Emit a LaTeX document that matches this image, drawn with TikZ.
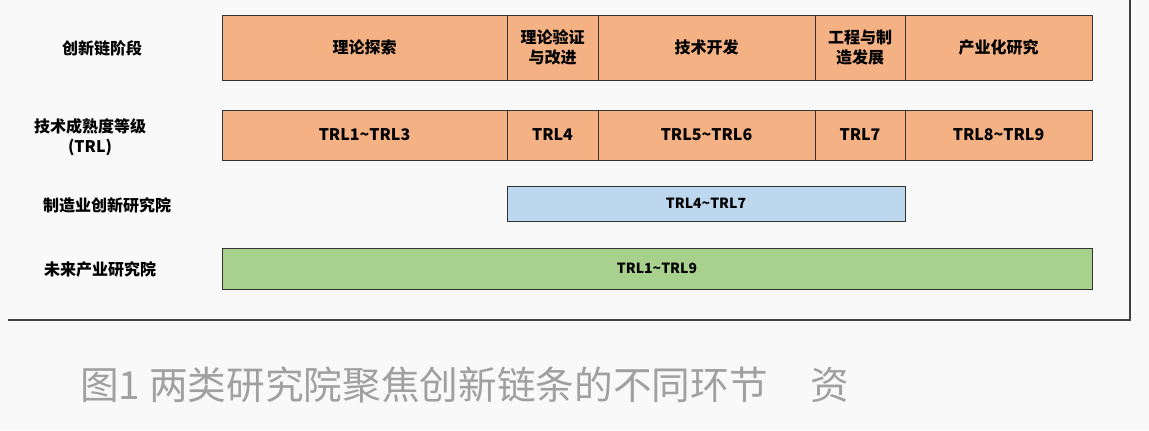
\documentclass[tikz,border=0pt]{standalone}
\usepackage{fontspec}
\setmainfont{Noto Sans CJK SC}
\definecolor{stageorange}{RGB}{244,177,131}
\definecolor{mfgblue}{RGB}{189,215,238}
\definecolor{futgreen}{RGB}{169,209,142}
\definecolor{capgrey}{RGB}{160,160,160}
\tikzset{
  cellbox/.style={draw=black!80, line width=0.6pt, inner sep=0pt, align=center, font=\bfseries\fontsize{12}{14}\selectfont},
  rowlabel/.style={inner sep=0.75pt, align=center, font=\bfseries\fontsize{12}{15}\selectfont}
}
\newcommand{\cellat}[6]{% name, x1, y1, x2, y2, text/fill
  \node[cellbox, #6, minimum width={(#4-#2)*0.75pt}, minimum height={(#5-#3)*0.75pt}] (#1) at ({(#2+#4)/2},{(#3+#5)/2}) {};}
\begin{document}
\begin{tikzpicture}[x=0.75pt,y=0.75pt,yscale=-1,xscale=1]
\fill[gray!5] (0,0) rectangle (1149,430);
\useasboundingbox (0,0) rectangle (1149,430);

%Frame
\coordinate (fa) at (8,320);
\coordinate (fb) at (1130,320);
\coordinate (fc) at (1130,0);
\draw[line width=1.2pt, black!75] (fa) -- (fb) -- (fc);

%Row 1
\cellat{s1}{222}{15}{507}{80}{fill=stageorange}
\cellat{s2}{507}{15}{598}{80}{fill=stageorange}
\cellat{s3}{598}{15}{815}{80}{fill=stageorange}
\cellat{s4}{815}{15}{905}{80}{fill=stageorange}
\cellat{s5}{905}{15}{1092}{80}{fill=stageorange}
\node[rowlabel] at (s1) {理论探索};
\node[rowlabel] at (s2) {理论验证\\与改进};
\node[rowlabel] at (s3) {技术开发};
\node[rowlabel] at (s4) {工程与制\\造发展};
\node[rowlabel] at (s5) {产业化研究};

%Row 2
\cellat{t1}{222}{110}{507}{160}{fill=stageorange}
\cellat{t2}{507}{110}{598}{160}{fill=stageorange}
\cellat{t3}{598}{110}{815}{160}{fill=stageorange}
\cellat{t4}{815}{110}{905}{160}{fill=stageorange}
\cellat{t5}{905}{110}{1092}{160}{fill=stageorange}
\node[rowlabel] at (t1) {TRL1\textasciitilde TRL3};
\node[rowlabel] at (t2) {TRL4};
\node[rowlabel] at (t3) {TRL5\textasciitilde TRL6};
\node[rowlabel] at (t4) {TRL7};
\node[rowlabel] at (t5) {TRL8\textasciitilde TRL9};

%Row 3 and 4
\cellat{m1}{507}{186}{905}{221}{fill=mfgblue}
\node[rowlabel, font=\bfseries\fontsize{10.5}{12}\selectfont] at (m1) {TRL4\textasciitilde TRL7};
\cellat{f1}{222}{248}{1092}{289}{fill=futgreen}
\node[rowlabel, font=\bfseries\fontsize{10.5}{12}\selectfont] at (f1) {TRL1\textasciitilde TRL9};

% Text Node
\node[rowlabel] (l1) at (102,48) {创新链阶段};
\node[rowlabel] (l2) at (90,137) {技术成熟度等级\\(TRL)};
\node[rowlabel] (l3) at (107,205) {制造业创新研究院};
\node[rowlabel] (l4) at (100,269) {未来产业研究院};

% Caption
\node[anchor=west, inner sep=0pt, text=capgrey, font=\fontsize{29}{32}\selectfont] (cap) at (80,385) {图1 两类研究院聚焦创新链条的不同环节\hspace{1.1em}资};
\end{tikzpicture}
\end{document}
